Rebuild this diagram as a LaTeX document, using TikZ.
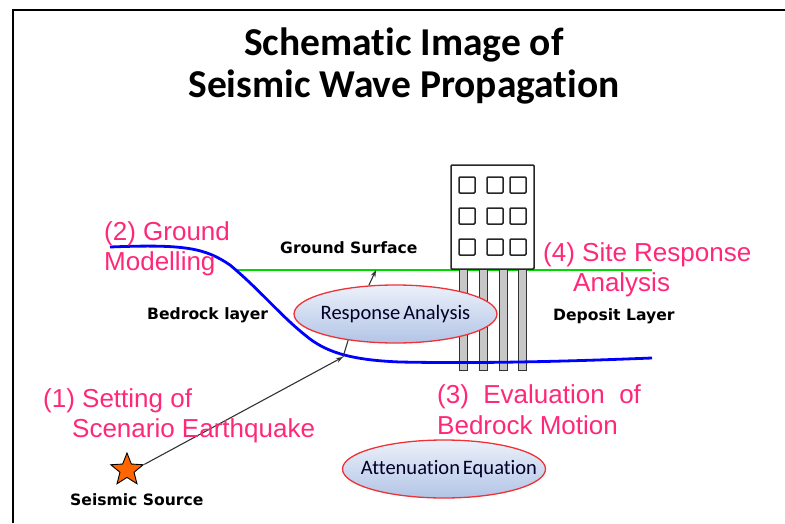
\documentclass[tikz,border=0pt]{standalone}
\usepackage{fontspec}
\setmainfont{Liberation Sans}
\newfontfamily\calfont[Ligatures=NoCommon]{Carlito}
\newfontfamily\tagfont{DejaVu Sans}
\usetikzlibrary{shapes.geometric,arrows.meta}

\definecolor{labelpink}{RGB}{255,40,120}
\definecolor{wavegray}{RGB}{50,50,50}
\definecolor{startone}{RGB}{255,102,0}
\definecolor{boxtop}{RGB}{236,241,250}
\definecolor{boxbottom}{RGB}{178,196,230}
\definecolor{boxedge}{RGB}{238,50,55}

\tikzset{
  heading/.style={font=\calfont\bfseries\fontsize{39.5}{45}\selectfont, anchor=base},
  steplabel/.style={text=labelpink, font=\fontsize{26}{30}\selectfont, anchor=base west, inner sep=0pt},
  layerlabel/.style={font=\tagfont\bfseries\fontsize{15.6}{18}\selectfont, anchor=base west, inner sep=0pt},
  procbox/.style={ellipse, draw=boxedge, line width=1.3pt, inner sep=0pt,
    minimum width=203pt, minimum height=58pt,
    top color=boxtop, bottom color=boxbottom,
    font=\calfont\fontsize{20.5}{22}\selectfont, text=black!85!blue},
  wavepath/.style={draw=wavegray, line width=1.1pt},
  wavearrow/.style={wavepath, -{Stealth[length=7pt,width=5pt]}},
  building/.style={draw=black!85, line width=1.5pt, rounded corners=1pt},
  pile/.style={draw=black!80, line width=1pt, fill=black!22},
}

\begin{document}
\begin{tikzpicture}[x=1pt,y=-1pt]
  \useasboundingbox (0,0) rectangle (785,523);

  % frame corner
  \draw[line width=2.6pt] (13,523) -- (13,10) -- (785,10);

  % title
  \node[heading] (title1) at (404,55) {Schematic Image of};
  \node[heading] (title2) at (404,97) {Seismic Wave Propagation};

  % ground surface
  \draw[green!85!black, line width=1.4pt] (237,270) -- (652,270);

  % piles under the building
  \foreach \px in {459,479,499,518}
    \draw[pile] (\px,269) rectangle ++(8,101);

  % building and its windows
  \draw[building] (451,165) rectangle (534,269);
  \foreach \wx in {459,487,510}
    \foreach \wy in {177,208,239}
      \draw[building] (\wx,\wy) rectangle ++(16,16);

  % bedrock boundary
  \draw[blue, line width=2.8pt]
    (110,247) .. controls (185,244) and (205,248) .. (230,265)
    .. controls (260,290) and (280,315) .. (305,335)
    .. controls (325,352) and (350,360) .. (400,362)
    .. controls (500,364) and (600,360) .. (652,358);

  % process ellipses
  \node[procbox] (resp) at (395.5,314) {\makebox[0pt]{Response\hspace{3pt}Analysis}};
  \node[procbox] (atten) at (444,469) {\makebox[0pt]{\hspace{10pt}Attenuation\hspace{3pt}Equation}};

  % seismic source
  \node[star, star points=5, star point ratio=2.3, minimum size=34pt, inner sep=0pt,
        draw=black, line width=0.9pt, fill=startone] (src) at (127,470) {};

  % wave path
  \coordinate (bp) at (343,357);
  \coordinate (gs) at (376,270);
  \draw[wavearrow] (src.18) -- (bp);
  \draw[wavepath] (bp) -- (resp.209);
  \draw[wavearrow] (resp.133) -- (gs);

  % layer labels
  \node[layerlabel] (lgs) at (280,253) {Ground Surface};
  \node[layerlabel] (lbr) at (147,319) {Bedrock layer};
  \node[layerlabel] (ldp) at (553,320) {Deposit Layer};
  \node[layerlabel] (lss) at (70,505) {Seismic Source};

  % step labels
  \node[steplabel] (s1a) at (43,407) {(1) Setting of};
  \node[steplabel] (s1b) at (72,437) {Scenario Earthquake};
  \node[steplabel] (s2a) at (104,240) {(2) Ground};
  \node[steplabel] (s2b) at (104,270) {Modelling};
  \node[steplabel] (s3a) at (437,403) {(3)\ \ Evaluation\ \ of};
  \node[steplabel] (s3b) at (437,434) {Bedrock Motion};
  \node[steplabel] (s4a) at (543,261) {(4) Site Response};
  \node[steplabel] (s4b) at (573,291) {Analysis};
\end{tikzpicture}
\end{document}
